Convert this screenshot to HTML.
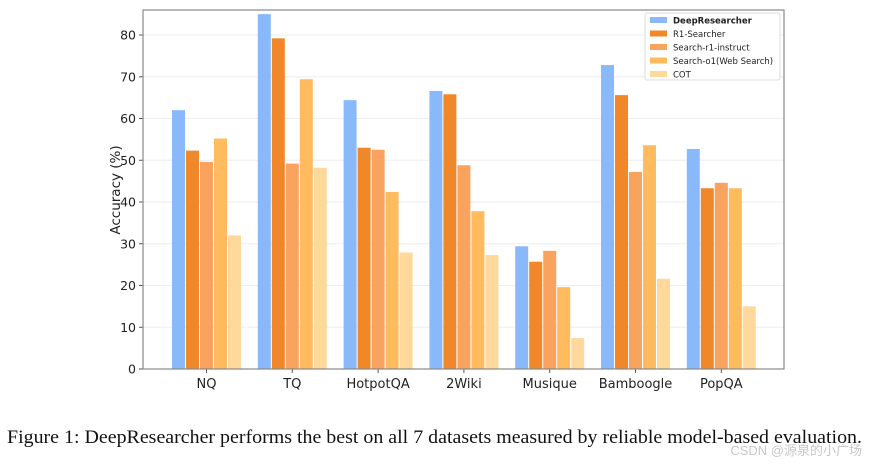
<!DOCTYPE html>
<html><head><meta charset="utf-8"><style>
body{margin:0;background:#fff;width:870px;height:463px;overflow:hidden;font-family:"DejaVu Sans","Liberation Sans",sans-serif}
</style></head><body>
<svg id="chart" width="870" height="463" xmlns="http://www.w3.org/2000/svg" font-family="DejaVu Sans, Liberation Sans, sans-serif"></svg>
<script>
const categories=["NQ","TQ","HotpotQA","2Wiki","Musique","Bamboogle","PopQA"];
const seriesNames=["DeepResearcher","R1-Searcher","Search-r1-instruct","Search-o1(Web Search)","COT"];
const deepResearcher=[62,85,64.4,66.6,29.4,72.8,52.7];
const r1Searcher=[52.3,79.2,53,65.8,25.7,65.6,43.3];
const searchR1=[49.6,49.2,52.5,48.8,28.3,47.2,44.6];
const searchO1=[55.2,69.4,42.4,37.8,19.6,53.6,43.3];
const cot=[32,48.2,27.9,27.3,7.4,21.6,15];
const yTicks=[0,10,20,30,40,50,60,70,80];
const series=[deepResearcher,r1Searcher,searchR1,searchO1,cot];
const colors=["#8ab9fb","#f0882a","#f9a35e","#ffbb5e","#ffd89b"];
const NS="http://www.w3.org/2000/svg";
const svg=document.getElementById('chart');
const L=143,R=784,T=10,B=369;
const y=v=>B-v*(B-35)/80;
const x=i=>206.5+i*85.8;
function mk(t,a,p){const e=document.createElementNS(NS,t);for(const k in a)e.setAttribute(k,a[k]);(p||svg).appendChild(e);return e;}
yTicks.forEach(t=>{
 const g=mk('line',{x1:L,x2:R,y1:y(t),y2:y(t),stroke:'#eeeeee','stroke-width':1});
 
 
 const tk=mk('line',{x1:L-4,x2:L,y1:y(t),y2:y(t),stroke:'#555'});
 
 
 const tx=mk('text',{x:L-7,y:y(t)+4.5,'text-anchor':'end','font-size':12.5,fill:'#222'});
 tx.textContent=t;
 
 
});
const bw=13,pitch=14;
series.forEach((s,si)=>{
 s.forEach((v,ci)=>{
  const bx=x(ci)-2.5*pitch+si*pitch+0.5;
  const r=mk('rect',{x:bx,y:y(v),width:bw,height:B-y(v),fill:colors[si]});
  
  
 });
});
categories.forEach((c,ci)=>{
 const tk=mk('line',{x1:x(ci),x2:x(ci),y1:B,y2:B+4,stroke:'#555'});
 
 
 const t=mk('text',{x:x(ci),y:B+19,'text-anchor':'middle','font-size':13,fill:'#222'});
 t.textContent=c;
 
 
});
const frame=mk('rect',{x:L,y:T,width:R-L,height:B-T,fill:'none',stroke:'#888','stroke-width':1.2});


const yt=mk('text',{x:0,y:0,transform:'translate(120,190) rotate(-90)','text-anchor':'middle','font-size':13.5,fill:'#222'});
yt.textContent='Accuracy (%)';


const lg=mk('rect',{x:645,y:13,width:135,height:67,fill:'#fff',stroke:'#ddd',rx:2});


seriesNames.forEach((n,i)=>{
 const sw=mk('rect',{x:650,y:17+i*13.5,width:17,height:6,fill:colors[i]});
 
 
 const t=mk('text',{x:673,y:23.5+i*13.5,'font-size':8.5,fill:'#222','font-weight':i==0?'bold':'normal'});
 t.textContent=n;
 
 
});
const cap=mk('text',{x:7,y:443,'font-size':18.5,fill:'#111','font-family':'Liberation Serif, serif',textLength:855,lengthAdjust:'spacingAndGlyphs'});
cap.textContent='Figure 1: DeepResearcher performs the best on all 7 datasets measured by reliable model-based evaluation.';


const wm=mk('text',{x:862,y:455,'text-anchor':'end','font-size':13,fill:'#c8c8c8','font-family':'Liberation Sans, Noto Sans CJK SC, sans-serif'});
wm.textContent='CSDN @源泉的小广场';


</script>
</body></html>
